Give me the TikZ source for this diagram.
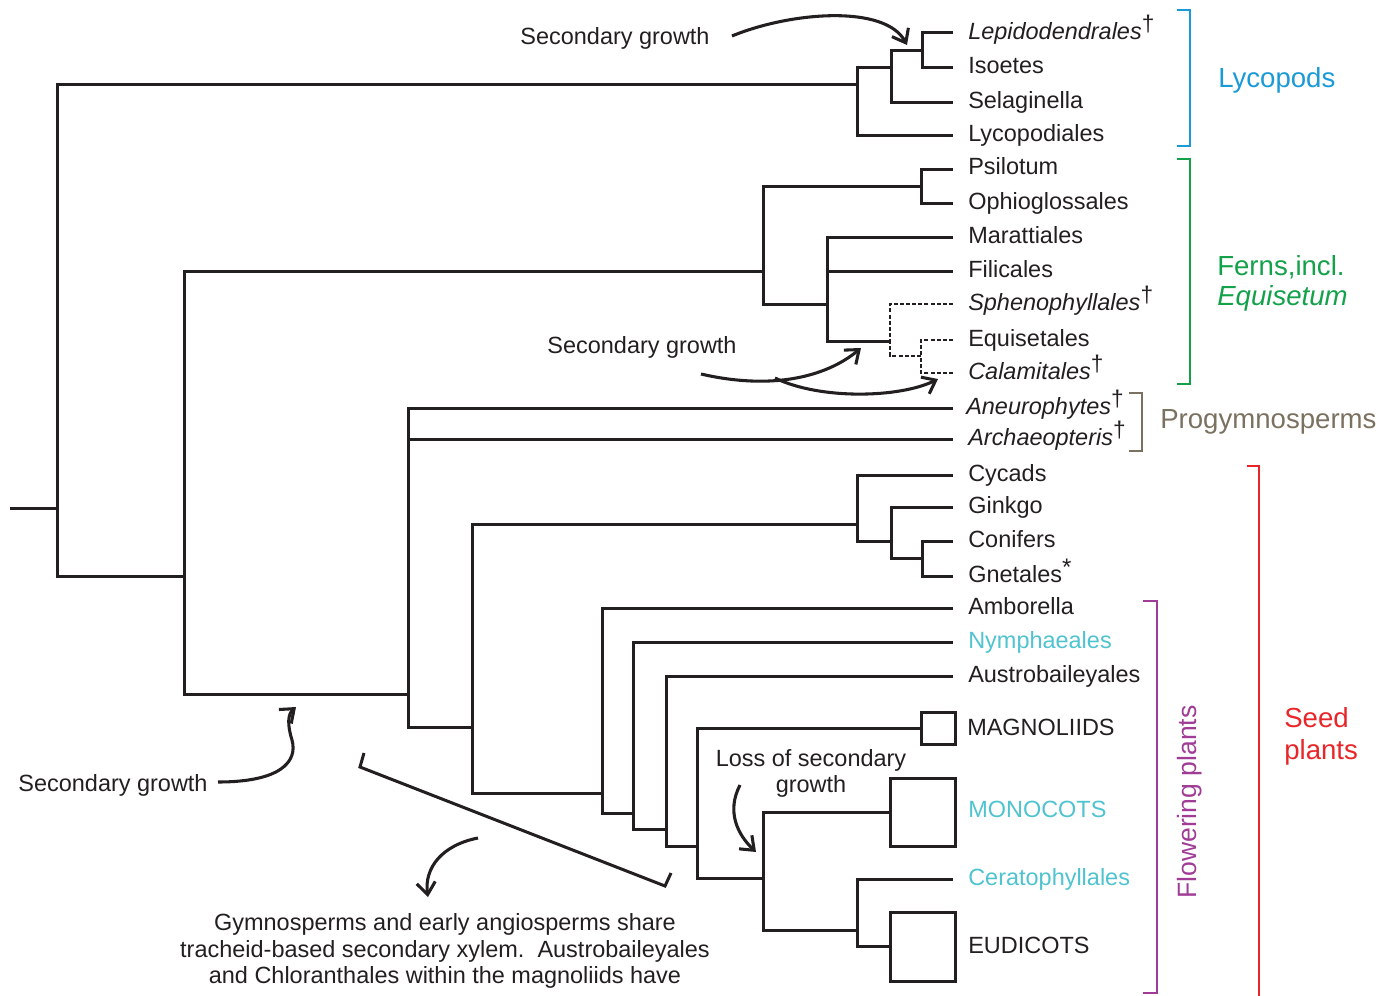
\documentclass[tikz,border=0pt]{standalone}
\usepackage{fontspec}
\setmainfont{Liberation Sans}
\usetikzlibrary{arrows.meta}
\definecolor{ink}{HTML}{231F20}
\definecolor{lyco}{HTML}{1A9AD6}
\definecolor{fern}{HTML}{13A14A}
\definecolor{progy}{HTML}{7B7160}
\definecolor{seedc}{HTML}{E8262A}
\definecolor{flow}{HTML}{A03C96}
\definecolor{tealc}{HTML}{4FC3CF}
\newcommand{\fsleaf}{\fontsize{17.6}{20}\selectfont}
\newcommand{\fsgroup}{\fontsize{20.7}{23}\selectfont}
\newcommand{\extinct}{\raisebox{6pt}{\fontsize{17}{17}\selectfont †}}
\newcommand{\astx}{\raisebox{5pt}{\fontsize{18}{18}\selectfont *}}
\begin{document}
\begin{tikzpicture}[x=0.75pt,y=-0.75pt,
  tree/.style={draw=ink, line width=2.25pt, line join=miter},
  dashtree/.style={tree, line width=2.1pt, dash pattern=on 3pt off 1.6pt},
  leaf/.style={anchor=base west, inner sep=0pt, font=\fsleaf, text=ink},
  note/.style={inner sep=0pt, font=\fsleaf, text=ink, align=center},
  grp/.style={anchor=base west, inner sep=0pt, font=\fsgroup},
  box/.style={draw=ink, line width=2.25pt, inner sep=0pt},
  brk/.style={line width=1.6pt, line join=miter},
  arr/.style={draw=ink, line width=2.3pt, -{Straight Barb[length=9pt,width=14pt,line width=2.3pt]}}
]
\useasboundingbox (0,0) rectangle (1383,995);

% ---- leaf line ends
\coordinate (l1) at (953,33);
\coordinate (l2) at (953,68);
\coordinate (l3) at (953,103);
\coordinate (l4) at (953,136);
\coordinate (l5) at (953,169);
\coordinate (l6) at (953,203);
\coordinate (l7) at (953,237);
\coordinate (l8) at (953,271);
\coordinate (l9) at (953,304);
\coordinate (l10) at (953,340);
\coordinate (l11) at (953,373);
\coordinate (l12) at (953,408);
\coordinate (l13) at (953,439);
\coordinate (l14) at (953,475);
\coordinate (l15) at (953,507);
\coordinate (l16) at (953,541);
\coordinate (l17) at (953,576);
\coordinate (l18) at (953,608);
\coordinate (l19) at (953,642);
\coordinate (l20) at (953,676);
\coordinate (l22) at (953,879);
\node[box, minimum width=25.5pt, minimum height=24pt] (mag) at (938,728) {};
\node[box, minimum width=48.75pt, minimum height=51pt] (mono) at (922.5,812) {};
\node[box, minimum width=48.75pt, minimum height=51.75pt] (eud) at (922.5,946.5) {};

% ---- internal nodes
\coordinate (root) at (10,508);
\coordinate (nU) at (57,508);
\coordinate (nC) at (857,85);
\coordinate (nB) at (891,68);
\coordinate (nA) at (922,51);
\coordinate (nT) at (184,576);
\coordinate (nH) at (763,271);
\coordinate (nD) at (921,186);
\coordinate (nG) at (827,304);
\coordinate (nE) at (890,341);
\coordinate (nF) at (921,356);
\coordinate (nS) at (408,694);
\coordinate (nR) at (472,727);
\coordinate (nK) at (857,524);
\coordinate (nJ) at (891,541);
\coordinate (nI) at (922,558);
\coordinate (nQ) at (602,793);
\coordinate (nP) at (633,813);
\coordinate (nO) at (666,829);
\coordinate (nN) at (697,846);
\coordinate (nM) at (763,878);
\coordinate (nL) at (857,930);

% ---- tree edges
\draw[tree] (root) -- (nU);
\draw[tree] (nC) -| (nU);
\draw[tree] (nT) -| (nU);
% lycopods
\draw[tree] (nB) -| (nC);
\draw[tree] (l4) -| (nC);
\draw[tree] (nA) -| (nB);
\draw[tree] (l3) -| (nB);
\draw[tree] (l1) -| (nA);
\draw[tree] (l2) -| (nA);
% ferns
\draw[tree] (nH) -| (nT);
\draw[tree] (nS) -| (nT);
\draw[tree] (nD) -| (nH);
\draw[tree] (nG) -| (nH);
\draw[tree] (l5) -| (nD);
\draw[tree] (l6) -| (nD);
\draw[tree] (l7) -| (nG);
\draw[tree] (l8) -| (nG);
\draw[tree] (nE) -| (nG);
\draw[dashtree] (l9) -| (nE);
\draw[dashtree] (nF) -| (nE);
\draw[dashtree] (l10) -| (nF);
\draw[dashtree] (l11) -| (nF);
% seed plants
\draw[tree] (l12) -| (nS);
\draw[tree] (l13) -| (nS);
\draw[tree] (nR) -| (nS);
\draw[tree] (nK) -| (nR);
\draw[tree] (nQ) -| (nR);
\draw[tree] (l14) -| (nK);
\draw[tree] (nJ) -| (nK);
\draw[tree] (l15) -| (nJ);
\draw[tree] (nI) -| (nJ);
\draw[tree] (l16) -| (nI);
\draw[tree] (l17) -| (nI);
% flowering plants
\draw[tree] (l18) -| (nQ);
\draw[tree] (nP) -| (nQ);
\draw[tree] (l19) -| (nP);
\draw[tree] (nO) -| (nP);
\draw[tree] (l20) -| (nO);
\draw[tree] (nN) -| (nO);
\draw[tree] (mag.west) -| (nN);
\draw[tree] (nM) -| (nN);
\draw[tree] (mono.west) -| (nM);
\draw[tree] (nL) -| (nM);
\draw[tree] (l22) -| (nL);
\draw[tree] (eud.west) -| (nL);

% ---- leaf labels
\node[leaf] (t1) at (968,39.5) {\textit{Lepidodendrales}\extinct};
\node[leaf] (t2) at (968,74) {Isoetes};
\node[leaf] (t3) at (968,109) {Selaginella};
\node[leaf] (t4) at (968,142) {Lycopodiales};
\node[leaf] (t5) at (968,175) {Psilotum};
\node[leaf] (t6) at (968,209) {Ophioglossales};
\node[leaf] (t7) at (968,243.5) {Marattiales};
\node[leaf] (t8) at (968,277.5) {Filicales};
\node[leaf] (t9) at (968,310.5) {\textit{Sphenophyllales}\extinct};
\node[leaf] (t10) at (968,346) {Equisetales};
\node[leaf] (t11) at (968,379) {\textit{Calamitales}\extinct};
\node[leaf] (t12) at (966,414.5) {\textit{Aneurophytes}\extinct};
\node[leaf] (t13) at (968,445) {\textit{Archaeopteris}\extinct};
\node[leaf] (t14) at (968,481) {Cycads};
\node[leaf] (t15) at (968,513) {Ginkgo};
\node[leaf] (t16) at (968,547) {Conifers};
\node[leaf] (t17) at (968,582) {Gnetales\astx};
\node[leaf] (t18) at (968,614.5) {Amborella};
\node[leaf, text=tealc] (t19) at (968,648) {Nymphaeales};
\node[leaf] (t20) at (968,682) {Austrobaileyales};
\node[leaf] (t21) at (967,735) {MAGNOLIIDS};
\node[leaf, text=tealc] (t22) at (968,817.5) {MONOCOTS};
\node[leaf, text=tealc] (t23) at (968,885) {Ceratophyllales};
\node[leaf] (t24) at (968,953) {EUDICOTS};

% ---- group brackets and labels
\draw[brk, lyco] (1177,10) -- (1190,10) -- (1190,146) -- (1177,146);
\node[grp, text=lyco] (glyco) at (1218,88) {Lycopods};
\draw[brk, fern] (1177,159) -- (1190,159) -- (1190,384) -- (1177,384);
\node[grp, text=fern] (gfern1) at (1217,275) {Ferns,incl.};
\node[grp, text=fern] (gfern2) at (1217,305) {\textit{Equisetum}};
\draw[brk, progy] (1129,393) -- (1142,393) -- (1142,451) -- (1129,451);
\node[grp, text=progy] (gprog) at (1160,428) {Progymnosperms};
\draw[brk, seedc] (1247,466) -- (1259,466) -- (1259,998);
\node[grp, text=seedc] (gseed1) at (1284,727) {Seed};
\node[grp, text=seedc] (gseed2) at (1284,759) {plants};
\draw[brk, flow] (1143,601) -- (1157,601) -- (1157,993) -- (1143,993);
\node[inner sep=0pt, font=\fontsize{19.9}{22}\selectfont, text=flow, rotate=90] (gflow) at (1190,802) {Flowering plants};

% ---- annotations
\node[note] (sg1) at (615,38) {Secondary growth};
\draw[arr] (732,36) .. controls (790,12) and (885,4) .. (907,45);
\node[note] (sg2) at (642,347) {Secondary growth};
\draw[arr] (701,374) .. controls (770,390) and (825,378) .. (861,348);
\draw[arr] (775,378) .. controls (820,400) and (900,398) .. (938,379);
\node[note] (sg3) at (113,785) {Secondary growth};
\draw[arr] (218,782) .. controls (280,782) and (298,762) .. (292,740)
  .. controls (287,724) and (288,714) .. (296,707);
\node[note] (loss) at (811,773) {Loss of secondary\\[-0.5pt]growth};
\draw[arr] (740,785) .. controls (726,812) and (738,835) .. (756,852);
\draw[brk, line width=2.25pt, draw=ink] (364,753) -- (360,767) -- (665,886) -- (671,873);
\draw[arr] (478,838) .. controls (442,845) and (424,868) .. (428,897);
\node[note, font=\fontsize{17.6}{19.9}\selectfont] (foot) at (445,951)
  {Gymnosperms and early angiosperms share\\tracheid-based secondary xylem.~~Austrobaileyales\\and Chloranthales within the magnoliids have};
\end{tikzpicture}
\end{document}
